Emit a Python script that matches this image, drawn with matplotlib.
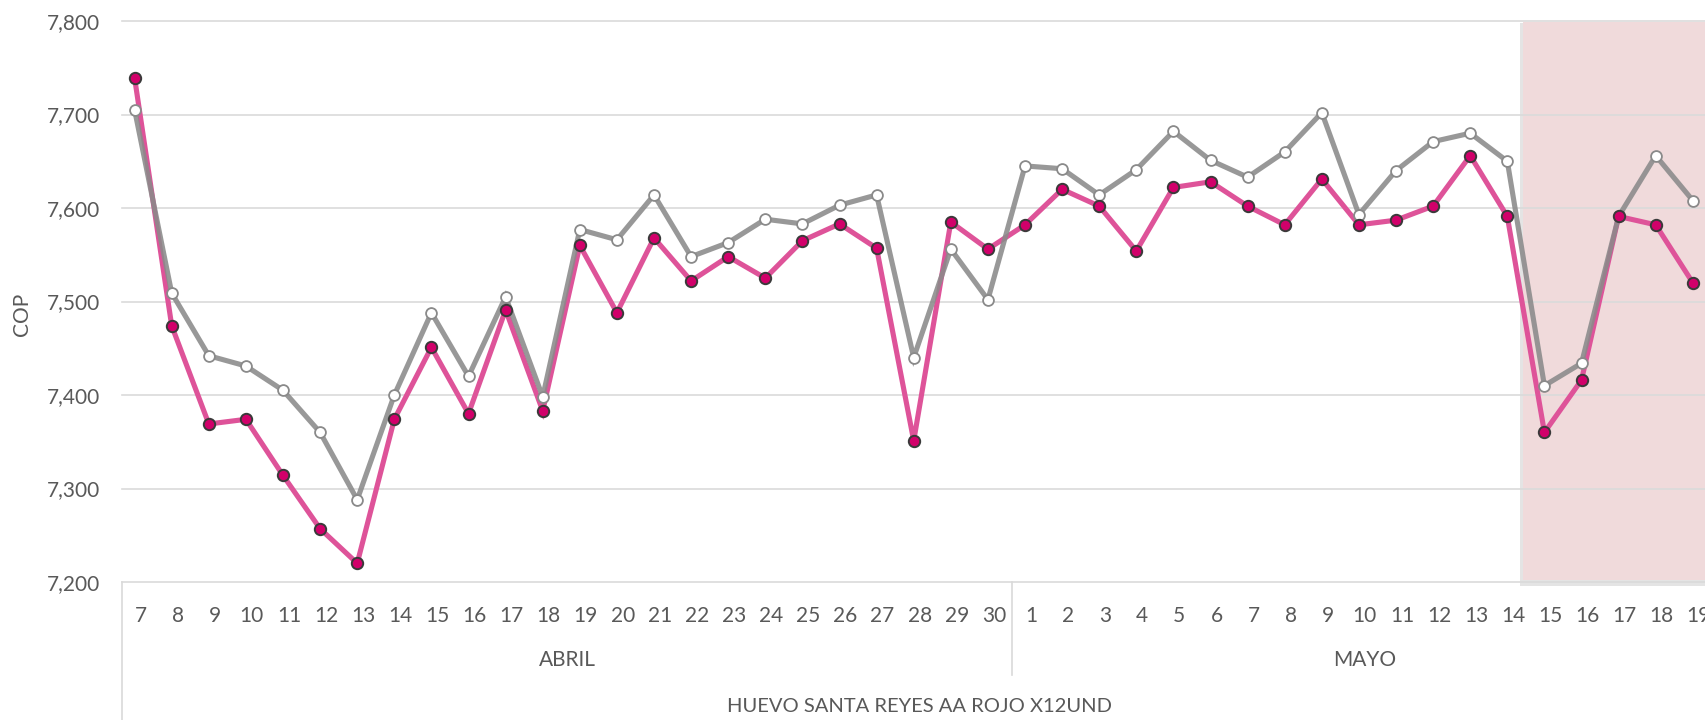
import numpy as np
import matplotlib.pyplot as plt
from matplotlib.ticker import FuncFormatter

plt.rcParams['font.family'] = ['Lato', 'DejaVu Sans']

# datos
dias_abril = list(range(7, 31))
dias_mayo = list(range(1, 20))
meses = ['ABRIL', 'MAYO']
producto = 'HUEVO SANTA REYES AA ROJO X12UND'

cop_rosa = [7739, 7474, 7369, 7374, 7314, 7257, 7220, 7374, 7451, 7380, 7491, 7383,
            7560, 7488, 7568, 7522, 7548, 7525, 7565, 7583, 7557, 7351, 7585, 7556,
            7582, 7620, 7602, 7554, 7622, 7628, 7602, 7582, 7631, 7582, 7587, 7602,
            7656, 7591, 7360, 7416, 7591, 7582, 7520]
cop_gris = [7705, 7509, 7442, 7431, 7405, 7360, 7288, 7400, 7488, 7420, 7505, 7398,
            7577, 7566, 7614, 7548, 7563, 7588, 7583, 7603, 7614, 7440, 7556, 7502,
            7645, 7642, 7614, 7641, 7682, 7651, 7633, 7660, 7702, 7593, 7640, 7671,
            7680, 7650, 7410, 7434, 7591, 7656, 7608]
yticks = [7200, 7300, 7400, 7500, 7600, 7700, 7800]

etiquetas = [str(d) for d in dias_abril] + [str(d) for d in dias_mayo]
n = len(etiquetas)
x = np.arange(n)
desfase = 0.16  # excel dibuja los marcadores un poco a la izquierda de las etiquetas
inicio_sombra = 37.42

fig = plt.figure(figsize=(17.06, 7.2), dpi=100)
ax = fig.add_axes([122 / 1706, 138 / 720, 1595.3 / 1706, 561 / 720])
ax.set_xlim(-0.5 + desfase, n - 0.5 + desfase)
ax.set_ylim(yticks[0], yticks[-1])

# zona sombreada
ax.axvspan(inicio_sombra - 0.08, n + 2, ymin=-0.007, ymax=0.997, color='#a8a8a8',
           alpha=0.3, lw=0, zorder=0.2, clip_on=False)
ax.axvspan(inicio_sombra, n + 2, ymin=0.004, ymax=0.999, color='#f0dadb',
           lw=0, zorder=0.3, clip_on=False)

for v in yticks:
    ax.axhline(v, color='#dadada', lw=1.2, zorder=1, clip_on=False)

ax.plot(x, cop_rosa, color='#de5399', lw=3.7, zorder=3, solid_joinstyle='miter')
ax.plot(x, cop_gris, color='#8a8a8a', lw=3.7, alpha=0.88, zorder=4,
        solid_joinstyle='miter')
ax.plot(x, cop_gris, ls='none', marker='o', ms=7.8, mfc='white', mec='#8a8a8a',
        mew=1.3, zorder=5)
ax.plot(x, cop_rosa, ls='none', marker='o', ms=8.2, mfc='#d1006a', mec='#3a3a3a',
        mew=1.4, zorder=6)

for s in ax.spines.values():
    s.set_visible(False)

ax.set_yticks(yticks)
ax.yaxis.set_major_formatter(FuncFormatter(lambda v, p: f'{v:,.0f}'))
ax.set_xticks(x + desfase)
ax.set_xticklabels(etiquetas)
ax.tick_params(axis='y', length=0, pad=16, labelsize=15, labelcolor='#595959')
ax.tick_params(axis='x', length=0, pad=17, labelsize=15, labelcolor='#595959')

# lineas del eje de categorias
tr = ax.get_xaxis_transform()
x0 = -0.5 + desfase
ax.plot([x0, x0], [0, -0.246], transform=tr, color='#d9d9d9', lw=1.2, clip_on=False)
ax.plot([len(dias_abril) + x0] * 2, [0, -0.166], transform=tr, color='#d9d9d9',
        lw=1.2, clip_on=False)

ax.text((len(dias_abril) - 1) / 2 + desfase, -0.139, meses[0], transform=tr,
        ha='center', va='center', fontsize=15, color='#595959')
ax.text(len(dias_abril) + (len(dias_mayo) - 1) / 2 + desfase, -0.139, meses[1],
        transform=tr, ha='center', va='center', fontsize=15, color='#595959')
ax.text((n - 1) / 2 + desfase, -0.2228, producto, transform=tr, ha='center',
        va='center', fontsize=14.5, color='#595959')

fig.text(22 / 1706, 1 - 314 / 720, 'COP', rotation=90, ha='center', va='center',
         fontsize=15, color='#595959')

fig.savefig('out.png', dpi=100)
